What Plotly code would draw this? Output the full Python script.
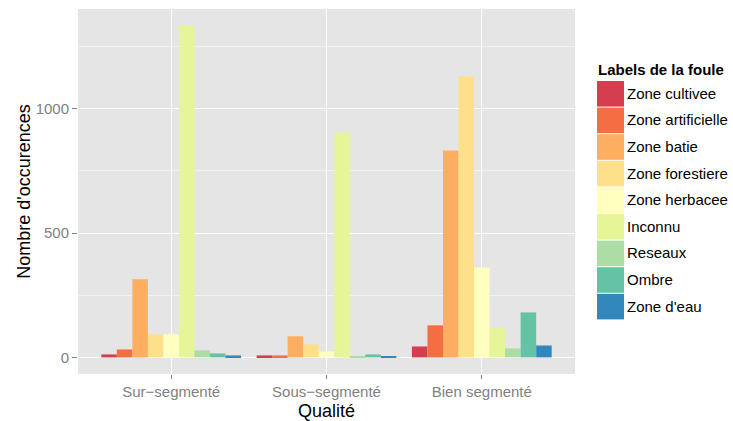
import plotly.graph_objects as go

categories = ["Sur\u2212segmenté", "Sous\u2212segmenté", "Bien segmenté"]
labels = ["Zone cultivee", "Zone artificielle", "Zone batie", "Zone forestiere",
          "Zone herbacee", "Inconnu", "Reseaux", "Ombre", "Zone d'eau"]
colors = ["#D53E4F", "#F46D43", "#FDAE61", "#FEE08B", "#FFFFBF",
          "#E6F598", "#ABDDA4", "#66C2A5", "#3288BD"]
values = {
    "Zone cultivee":     [12, 8, 44],
    "Zone artificielle": [32, 8, 129],
    "Zone batie":        [314, 85, 832],
    "Zone forestiere":   [93, 52, 1130],
    "Zone herbacee":     [93, 24, 362],
    "Inconnu":           [1335, 905, 117],
    "Reseaux":           [28, 6, 36],
    "Ombre":             [16, 12, 181],
    "Zone d'eau":        [8, 4, 48],
}
y_ticks = [0, 500, 1000]

FONT = "Liberation Sans, Arial, sans-serif"
W, H = 733, 421
ML, MR, MT, MB = 78, 158, 9, 47

fig = go.Figure()
for lab, col in zip(labels, colors):
    fig.add_trace(go.Bar(x=categories, y=values[lab], name=lab,
                         marker=dict(color=col, line=dict(width=0)),
                         showlegend=False))

ymax = max(max(v) for v in values.values())
pad = ymax * 0.05
ncat = len(categories)

fig.update_layout(
    width=W, height=H,
    margin=dict(l=ML, r=MR, t=MT, b=MB),
    paper_bgcolor="white",
    plot_bgcolor="#E5E5E5",
    barmode="group", bargap=0.1, bargroupgap=0,
    font=dict(family=FONT, color="black"),
    xaxis=dict(
        range=[-0.6, ncat - 1 + 0.6],
        automargin=False,
        showgrid=True, gridcolor="white", gridwidth=1.2,
        ticks="outside", ticklen=4, tickcolor="#7F7F7F", tickwidth=1,
        tickfont=dict(size=15, color="#7F7F7F"),
        title=dict(text="Qualité", font=dict(size=18, color="black")),
        zeroline=False, showline=False,
    ),
    yaxis=dict(
        range=[-pad, ymax + pad],
        automargin=True,
        tickvals=y_ticks,
        showgrid=True, gridcolor="white", gridwidth=1.2,
        ticks="outside", ticklen=5, tickcolor="#7F7F7F", tickwidth=1,
        tickfont=dict(size=15, color="#7F7F7F"),
        title=dict(text="Nombre d'occurences", font=dict(size=18, color="black"), standoff=0),
        zeroline=False, showline=False,
        minor=dict(tickvals=[250, 750, 1250], showgrid=True, gridcolor="#F2F2F2", gridwidth=0.6),
    ),
)

# Custom legend (ggplot style)
pw = W - ML - MR
ph = H - MT - MB
legend_x = 597
key_top = 80
key_h = 26.6
key_w = 27
shapes = []
annotations = [dict(text="<b>Labels de la foule</b>", xref="paper", yref="paper",
                    x=(legend_x - 1 - ML) / pw, y=1 - (69 - MT) / ph,
                    xanchor="left", yanchor="middle", showarrow=False,
                    font=dict(size=15, color="black", family=FONT))]
for i, (lab, col) in enumerate(zip(labels, colors)):
    y0 = key_top + i * key_h
    y1 = y0 + key_h
    shapes.append(dict(type="rect", xref="paper", yref="paper",
                       x0=(legend_x - ML) / pw, x1=(legend_x + key_w - ML) / pw,
                       y0=1 - (y1 - MT) / ph, y1=1 - (y0 + 1 - MT) / ph,
                       fillcolor=col, line=dict(width=0), layer="above"))
    annotations.append(dict(text=lab, xref="paper", yref="paper",
                            x=(legend_x + key_w + 1 - ML) / pw, y=1 - ((y0 + y1) / 2 - MT) / ph,
                            xanchor="left", yanchor="middle", showarrow=False,
                            font=dict(size=15, color="black", family=FONT)))
fig.update_layout(shapes=shapes, annotations=annotations)

fig.write_html("out.html", config={"displayModeBar": False},
               post_script="document.body.style.margin='0';document.body.style.overflow='hidden';")
